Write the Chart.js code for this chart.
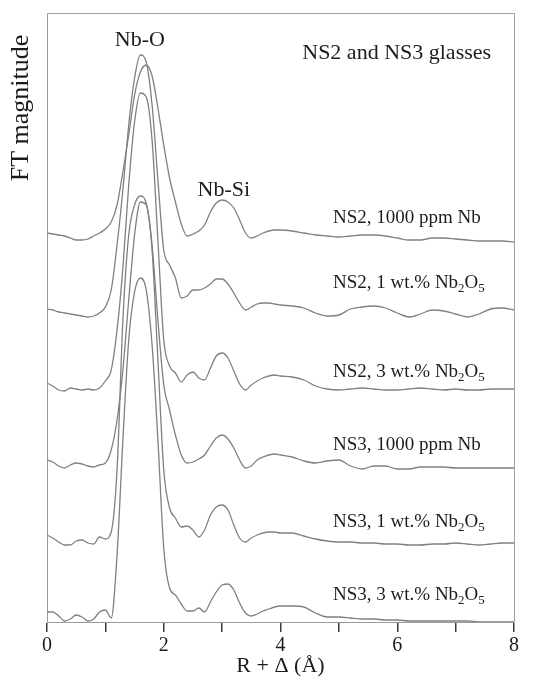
<!DOCTYPE html>
<html>
<head>
<meta charset="utf-8">
<script src="https://cdn.jsdelivr.net/npm/chart.js@4.4.0/dist/chart.umd.min.js"></script>
<style>
  html, body { margin: 0; padding: 0; background: #fff; }
</style>
</head>
<body>
<canvas id="ftChart" width="535" height="677"></canvas>
<script>
// R + delta (Angstrom) sampling positions
const rValues = [0.0, 0.1, 0.2, 0.3, 0.4, 0.5, 0.6, 0.7, 0.8, 0.9,
                 1.0, 1.1, 1.2, 1.3, 1.4, 1.5, 1.6, 1.7, 1.8, 1.9,
                 2.0, 2.1, 2.2, 2.3, 2.4, 2.5, 2.6, 2.7, 2.8, 2.9,
                 3.0, 3.1, 3.2, 3.3, 3.4, 3.5, 3.6, 3.7, 3.8, 3.9,
                 4.0, 4.2, 4.4, 4.6, 4.8, 5.0, 5.2, 5.4, 5.6, 5.8,
                 6.0, 6.2, 6.4, 6.6, 6.8, 7.0, 7.2, 7.4, 7.6, 7.8, 8.0];

// FT magnitude (stacked, arbitrary units), top curve first
const ns2_1000ppm = [389, 388, 387, 386, 384, 382, 382, 383, 386, 389,
                     393, 400, 417, 450, 487, 527, 550, 557, 546, 514,
                     477, 444, 420, 398, 386, 388, 391, 397, 410, 419,
                     422, 420, 414, 402, 389, 384, 386, 389, 391, 392,
                     392, 391, 389, 387, 386, 385, 386, 387, 387, 386,
                     384, 382, 382, 384, 384, 383, 382, 381, 381, 381, 380];
const ns2_1wt = [313, 312, 310, 309, 308, 307, 306, 305, 306, 309,
                 315, 332, 377, 432, 497, 544, 567, 560, 517, 442,
                 372, 357, 344, 324, 326, 332, 332, 334, 338, 343,
                 343, 338, 329, 319, 312, 315, 318, 319, 319, 318,
                 317, 316, 314, 309, 306, 307, 313, 315, 316, 314,
                 309, 305, 308, 312, 311, 308, 305, 308, 313, 314, 312];
const ns2_3wt = [239, 236, 232, 231, 234, 233, 232, 233, 232, 234,
                 241, 252, 292, 354, 437, 500, 529, 525, 482, 382,
                 282, 256, 249, 240, 247, 250, 244, 242, 254, 266,
                 269, 264, 251, 238, 232, 237, 241, 244, 246, 247,
                 246, 245, 242, 236, 233, 232, 233, 234, 233, 232,
                 232, 233, 234, 233, 232, 233, 232, 232, 233, 233, 233];
const ns3_1000ppm = [162, 160, 156, 154, 157, 159, 158, 156, 155, 157,
                     159, 172, 202, 252, 322, 387, 420, 417, 377, 302,
                     237, 212, 187, 167, 159, 160, 163, 167, 176, 184,
                     187, 183, 174, 162, 154, 156, 162, 165, 167, 168,
                     167, 165, 161, 159, 161, 162, 156, 153, 156, 156,
                     153, 153, 155, 155, 155, 154, 154, 154, 154, 154, 154];
const ns3_1wt = [87, 84, 80, 77, 77, 81, 82, 79, 78, 85,
                 83, 90, 152, 302, 387, 417, 426, 419, 372, 262,
                 152, 114, 104, 95, 96, 92, 85, 92, 107, 115,
                 117, 112, 97, 84, 80, 84, 87, 89, 90, 90,
                 89, 89, 86, 83, 81, 80, 80, 79, 79, 78,
                 78, 77, 77, 78, 78, 79, 78, 77, 78, 79, 79];
const ns3_3wt = [10, 10, 6, 1, 3, 7, 5, 1, 3, 10,
                 12, 4, 67, 182, 282, 330, 344, 332, 277, 182,
                 74, 34, 27, 18, 11, 11, 14, 10, 20, 30,
                 37, 38, 32, 19, 9, 6, 8, 11, 13, 15,
                 16, 16, 15, 9, 5, 5, 4, 3, 3, 2,
                 2, 1, 1, 1, 1, 1, 1, 0, 0, 0, 0];

// sample names ('_' marks a subscript digit)
const sampleNames = ['NS2, 1000 ppm Nb', 'NS2, 1 wt.% Nb_2O_5', 'NS2, 3 wt.% Nb_2O_5',
                     'NS3, 1000 ppm Nb', 'NS3, 1 wt.% Nb_2O_5', 'NS3, 3 wt.% Nb_2O_5'];
const allCurves = [ns2_1000ppm, ns2_1wt, ns2_3wt, ns3_1000ppm, ns3_1wt, ns3_3wt];

const xTicks = [0, 2, 4, 6, 8];

const serif = '"Liberation Serif", "Times New Roman", serif';
const textColor = '#1c1c1c';

// draw a label with subscripts, left aligned, vertically centred on y
function drawRich(ctx, text, x, y, size) {
    const parts = text.split(/(_\d)/);
    let cx = x;
    parts.forEach((p) => {
        if (!p) return;
        const sub = p[0] === '_';
        const s = sub ? p.slice(1) : p;
        ctx.font = (sub ? size * 0.68 : size) + 'px ' + serif;
        ctx.fillText(s, cx, sub ? y + size * 0.32 : y);
        cx += ctx.measureText(s).width;
    });
}

const labelsPlugin = {
    id: 'ftLabels',
    afterDraw(chart) {
        const { ctx, chartArea, scales: { x, y } } = chart;
        ctx.save();

        // top and right frame
        ctx.strokeStyle = '#a0a0a0';
        ctx.lineWidth = 1;
        ctx.beginPath();
        ctx.moveTo(chartArea.left, chartArea.top + 0.5);
        ctx.lineTo(chartArea.right + 0.5, chartArea.top + 0.5);
        ctx.lineTo(chartArea.right + 0.5, chartArea.bottom);
        ctx.stroke();

        ctx.fillStyle = textColor;
        ctx.textBaseline = 'middle';

        // peak names
        ctx.textAlign = 'center';
        ctx.font = '22px ' + serif;
        ctx.fillText('Nb-O', x.getPixelForValue(1.59), y.getPixelForValue(582));
        ctx.fillText('Nb-Si', x.getPixelForValue(3.03), y.getPixelForValue(432));
        ctx.fillText('NS2 and NS3 glasses', x.getPixelForValue(5.99), y.getPixelForValue(569));

        // y axis title
        ctx.save();
        ctx.translate(chartArea.left - 26, chartArea.top + 95);
        ctx.rotate(-Math.PI / 2);
        ctx.font = '26px ' + serif;
        ctx.fillText('FT magnitude', 0, 0);
        ctx.restore();

        // curve names
        ctx.textAlign = 'left';
        const labelY = [404, 339, 250, 177, 100, 27];
        sampleNames.forEach((name, i) => {
            drawRich(ctx, name, x.getPixelForValue(4.9), y.getPixelForValue(labelY[i]), 19);
        });
        ctx.restore();
    }
};

const datasets = allCurves.map((curve, i) => ({
    label: sampleNames[i],
    data: rValues.map((r, j) => ({ x: r, y: curve[j] })),
    borderColor: '#808080',
    borderWidth: 1.3,
    pointRadius: 0,
    fill: false,
    cubicInterpolationMode: 'monotone'
}));

new Chart(document.getElementById('ftChart'), {
    type: 'line',
    data: { datasets: datasets },
    options: {
        responsive: false,
        animation: false,
        layout: { padding: { left: 0, top: 13, right: 21, bottom: 0 } },
        plugins: {
            legend: { display: false },
            tooltip: { enabled: false }
        },
        scales: {
            x: {
                type: 'linear',
                min: 0,
                max: 8,
                ticks: {
                    stepSize: 1,
                    autoSkip: false,
                    maxRotation: 0,
                    padding: 2,
                    color: textColor,
                    font: { family: serif, size: 20 },
                    callback: (v) => (xTicks.includes(v) ? v : '')
                },
                grid: { drawOnChartArea: false, tickLength: 10, color: '#3a3a3a', lineWidth: 1.5 },
                border: { color: '#999', width: 1 },
                title: {
                    display: true,
                    text: 'R + Δ (Å)',
                    color: textColor,
                    font: { family: serif, size: 22, lineHeight: 1 },
                    padding: { top: 0, bottom: 0 }
                },
                afterFit: (s) => { s.height = 55; }
            },
            y: {
                min: 0,
                max: 609,
                ticks: { display: false },
                grid: { display: false },
                border: { color: '#999', width: 1 },
                afterFit: (s) => { s.width = 47; }
            }
        }
    },
    plugins: [labelsPlugin]
});
</script>
</body>
</html>
